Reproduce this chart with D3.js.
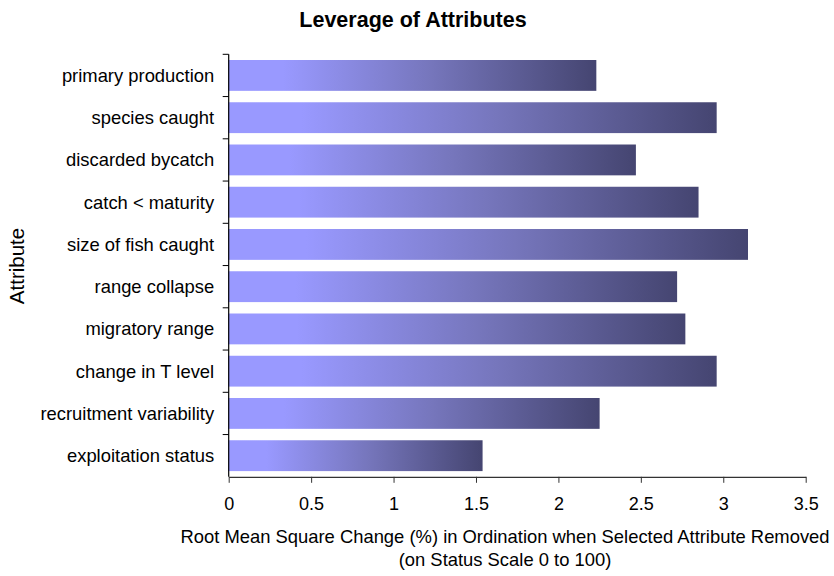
<!DOCTYPE html>
<html>
<head>
<meta charset="utf-8">
<script src="https://cdn.jsdelivr.net/npm/d3@7"></script>
<style>
  html, body { margin: 0; padding: 0; background: #fff; }
  svg { display: block; font-family: "Liberation Sans", Arial, sans-serif; }
</style>
</head>
<body>
<svg id="chart" width="834" height="576"></svg>
<script>
const categories = [
  "primary production",
  "species caught",
  "discarded bycatch",
  "catch < maturity",
  "size of fish caught",
  "range collapse",
  "migratory range",
  "change in T level",
  "recruitment variability",
  "exploitation status"
];
const values = [2.23, 2.96, 2.47, 2.85, 3.15, 2.72, 2.77, 2.96, 2.25, 1.54];
const xTicks = [0, 0.5, 1, 1.5, 2, 2.5, 3, 3.5];
const title = "Leverage of Attributes";
const xTitle = ["Root Mean Square Change (%) in Ordination when Selected Attribute Removed", "(on Status Scale 0 to 100)"];
const yTitle = "Attribute";

const svg = d3.select("#chart");
const plotL = 228.7, plotR = 805.7, plotT = 54.3, plotB = 476.8;

const x = d3.scaleLinear().domain([0, 3.5]).range([plotL, plotR]);
const y = d3.scaleBand().domain(categories).range([plotT, plotB]).paddingInner(0.27).paddingOuter(0.135);

// gradient
const defs = svg.append("defs");
const grad = defs.append("linearGradient").attr("id", "barGrad")
  .attr("x1", "0%").attr("x2", "100%").attr("y1", "0%").attr("y2", "0%");
grad.append("stop").attr("offset", "0%").attr("stop-color", "#9999FF");
grad.append("stop").attr("offset", "15%").attr("stop-color", "#9999FF");
grad.append("stop").attr("offset", "55%").attr("stop-color", "#7676BC");
grad.append("stop").attr("offset", "100%").attr("stop-color", "#454571");

// bars
svg.append("g").selectAll("rect").data(categories).join("rect")
  .attr("x", x(0) - 0.5)
  .attr("y", d => y(d))
  .attr("width", (d, i) => x(values[i]) - x(0) + 0.5)
  .attr("height", y.bandwidth())
  .attr("fill", "url(#barGrad)");

// x axis
const xAxis = d3.axisBottom(x).tickValues(xTicks).tickSize(6).tickSizeOuter(0).tickFormat(d3.format("~g"));
const gx = svg.append("g").attr("transform", `translate(0,${plotB})`).call(xAxis);
gx.select(".domain").attr("stroke", "#333").attr("stroke-width", 1.2);
gx.selectAll(".tick line").attr("stroke", "#333");
gx.selectAll(".tick text").attr("font-size", "18px").attr("fill", "#000").attr("dy", null).attr("y", 33);

// y axis line + boundary ticks
const gy = svg.append("g");
gy.append("line").attr("x1", plotL).attr("x2", plotL).attr("y1", plotT).attr("y2", plotB)
  .attr("stroke", "#000").attr("stroke-width", 1.2);
const bounds = d3.range(categories.length).map(i => y.step() * i + plotT);
gy.selectAll("line.tk").data(bounds).join("line").attr("class", "tk")
  .attr("x1", plotL - 6).attr("x2", plotL).attr("y1", d => d).attr("y2", d => d)
  .attr("stroke", "#000");

// category labels
svg.append("g").selectAll("text").data(categories).join("text")
  .attr("x", plotL - 14.5)
  .attr("y", d => y(d) + y.bandwidth() / 2 + 6.5)
  .attr("text-anchor", "end")
  .attr("font-size", "18.4px")
  .text(d => d);

// title
svg.append("text").attr("x", 413).attr("y", 26.5).attr("text-anchor", "middle")
  .attr("font-size", "21.5px").attr("font-weight", "bold").text(title);

// x title
svg.append("g").selectAll("text").data(xTitle).join("text")
  .attr("x", 505).attr("y", (d, i) => 542.5 + i * 23.5)
  .attr("text-anchor", "middle").attr("font-size", "18.4px").text(d => d);

// y title
svg.append("text").attr("transform", "translate(24,266) rotate(-90)")
  .attr("text-anchor", "middle").attr("font-size", "20.5px").text(yTitle);
</script>
</body>
</html>
